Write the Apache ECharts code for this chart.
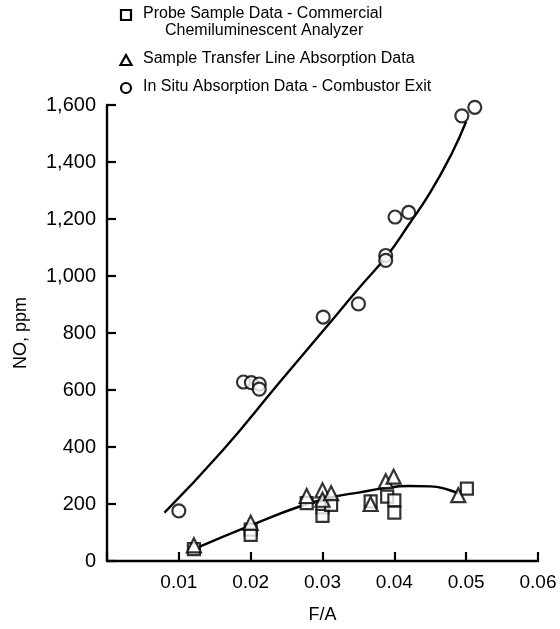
<!DOCTYPE html>
<html>
<head>
<meta charset="utf-8">
<title>NO vs F/A</title>
<script src="https://cdn.jsdelivr.net/npm/echarts@6/dist/echarts.min.js"></script>
<style>
  html, body { margin: 0; padding: 0; background: #fff; }
  #chart { width: 560px; height: 629px; }
</style>
</head>
<body>
<div id="chart"></div>
<script>
// 数据
const probeX = [0.0121, 0.020, 0.020, 0.0278, 0.030, 0.030, 0.0312, 0.0367, 0.039, 0.040, 0.040, 0.0501];
const probeY = [42, 110, 92, 203, 188, 158, 197, 209, 226, 213, 170, 254];

const transferX = [0.0121, 0.020, 0.0278, 0.030, 0.030, 0.0312, 0.0367, 0.0388, 0.0399, 0.0489];
const transferY = [55, 134, 228, 248, 215, 238, 200, 280, 296, 231];

const inSituX = [0.0100, 0.0190, 0.0201, 0.0212, 0.0212, 0.0301, 0.0350, 0.0388, 0.0388, 0.0401, 0.0420, 0.0494, 0.0512];
const inSituY = [176, 628, 626, 621, 603, 856, 902, 1072, 1055, 1207, 1223, 1562, 1592];

// hand-drawn fit curves
const upperFitX = [0.008, 0.016, 0.024, 0.030, 0.035, 0.039, 0.042, 0.045, 0.048, 0.050];
const upperFitY = [170, 385, 626, 805, 955, 1072, 1180, 1293, 1430, 1542];
const lowerFitX = [0.0125, 0.020, 0.027, 0.0315, 0.035, 0.0385, 0.042, 0.045, 0.0475, 0.049];
const lowerFitY = [46, 125, 193, 225, 240, 255, 263, 262, 250, 236];

const legendNames = [
  ['Probe Sample Data - Commercial', 'Chemiluminescent Analyzer'],
  ['Sample Transfer Line Absorption Data'],
  ['In Situ Absorption Data - Combustor Exit']
];

const FONT = '"Liberation Sans", Arial, Helvetica, sans-serif';

const zip = (xs, ys) => xs.map((x, i) => [x, ys[i]]);

const chart = echarts.init(document.getElementById('chart'), null, { renderer: 'canvas' });

const hollow = { color: '#fff', borderColor: '#000', borderWidth: 2.2 };

// legend drawn by hand so the first entry can wrap with an indent
const legendX = 126;
const legendRows = [15, 60, 88];
const legendSymbols = ['rect', 'triangle', 'circle'];
const legendGraphics = [];
legendRows.forEach((y, i) => {
  const sym = legendSymbols[i];
  if (sym === 'rect') {
    legendGraphics.push({ type: 'rect', shape: { x: legendX - 5, y: y - 5, width: 10, height: 10 },
      style: { fill: '#fff', stroke: '#000', lineWidth: 2.2 } });
  } else if (sym === 'triangle') {
    legendGraphics.push({ type: 'polygon', shape: { points: [[legendX, y - 5], [legendX + 5.5, y + 5], [legendX - 5.5, y + 5]] },
      style: { fill: '#fff', stroke: '#000', lineWidth: 2.2 } });
  } else {
    legendGraphics.push({ type: 'circle', shape: { cx: legendX, cy: y, r: 5 },
      style: { fill: '#fff', stroke: '#000', lineWidth: 2.2 } });
  }
  legendNames[i].forEach((t, j) => {
    legendGraphics.push({
      type: 'text',
      left: j === 0 ? 143 : 165,
      top: y - 9 + j * 17,
      style: { text: t, font: '16px ' + FONT, fill: '#000' }
    });
  });
});

chart.setOption({
  animation: false,
  backgroundColor: '#fff',
  textStyle: { fontFamily: FONT },
  grid: { left: 107, right: 22, top: 105, bottom: 64, containLabel: false },
  xAxis: {
    type: 'value',
    min: 0, max: 0.06, interval: 0.01,
    name: 'F/A',
    nameLocation: 'middle',
    nameGap: 45,
    nameTextStyle: { fontSize: 18, color: '#000', fontFamily: FONT },
    axisLine: { show: true, onZero: false, lineStyle: { color: '#000', width: 2.4 } },
    axisTick: { show: true, inside: true, length: 9, lineStyle: { color: '#000', width: 2.2 } },
    axisLabel: {
      color: '#000', fontSize: 19, margin: 12, fontFamily: FONT,
      formatter: v => (v === 0 ? '' : v.toFixed(2))
    },
    splitLine: { show: false }
  },
  yAxis: {
    type: 'value',
    min: 0, max: 1600, interval: 200,
    name: 'NO, ppm',
    nameLocation: 'middle',
    nameGap: 77,
    nameRotate: 90,
    nameTextStyle: { fontSize: 18, color: '#000', fontFamily: FONT },
    axisLine: { show: true, onZero: false, lineStyle: { color: '#000', width: 2.4 } },
    axisTick: { show: true, inside: true, length: 9, lineStyle: { color: '#000', width: 2.2 } },
    axisLabel: {
      color: '#000', fontSize: 20, margin: 11, fontFamily: FONT,
      formatter: v => v.toLocaleString('en-US')
    },
    splitLine: { show: false }
  },
  graphic: legendGraphics,
  series: [
    {
      type: 'line', name: 'upper fit', data: zip(upperFitX, upperFitY),
      smooth: true, showSymbol: false, silent: true,
      lineStyle: { color: '#000', width: 2.4 }, z: 1
    },
    {
      type: 'line', name: 'lower fit', data: zip(lowerFitX, lowerFitY),
      smooth: true, showSymbol: false, silent: true,
      lineStyle: { color: '#000', width: 2.4 }, z: 1
    },
    {
      type: 'scatter', name: legendNames[0].join(' '), data: zip(probeX, probeY),
      symbol: 'rect', symbolSize: 12, itemStyle: hollow, z: 3
    },
    {
      type: 'scatter', name: legendNames[1][0], data: zip(transferX, transferY),
      symbol: 'triangle', symbolSize: 14, itemStyle: hollow, z: 4
    },
    {
      type: 'scatter', name: legendNames[2][0], data: zip(inSituX, inSituY),
      symbol: 'circle', symbolSize: 13, itemStyle: hollow, z: 3
    }
  ]
});
</script>
</body>
</html>
